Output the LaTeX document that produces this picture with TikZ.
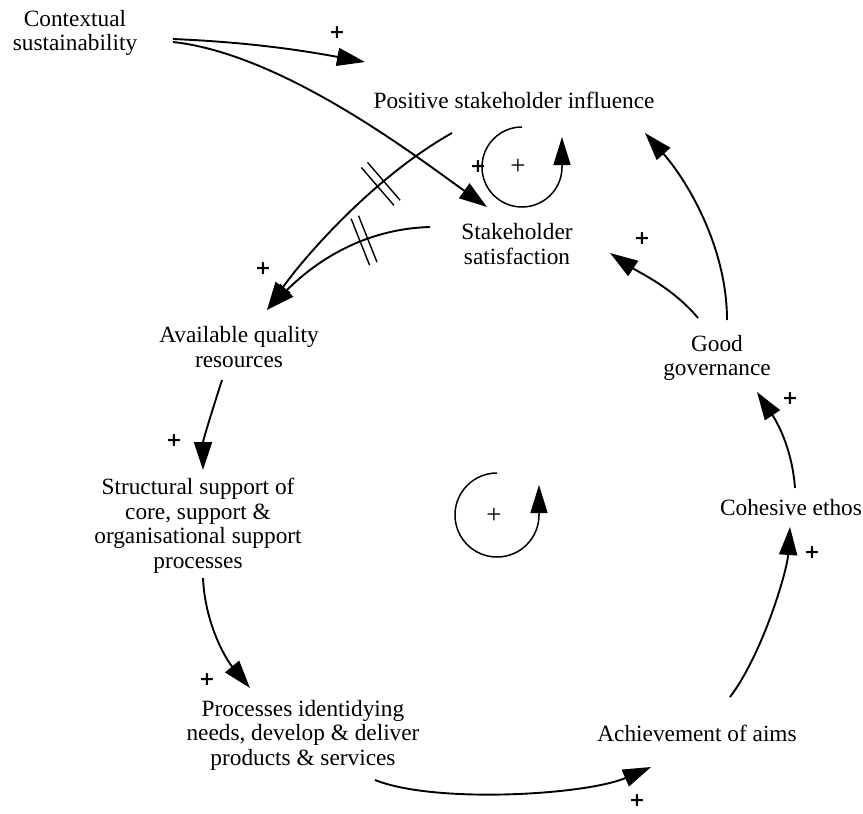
\documentclass[tikz,border=0pt]{standalone}
\usepackage{fontspec}
\setmainfont{Liberation Serif}
\newfontfamily\plusfont{DejaVu Sans}
\usetikzlibrary{arrows.meta,decorations.markings}

\tikzset{
  txt/.style={align=center, inner sep=0pt, font=\fontsize{23.3}{24.5}\selectfont},
  pol/.style={inner sep=0pt, font=\plusfont\fontsize{19}{19}\selectfont\bfseries},
  loopsign/.style={inner sep=0pt, font=\fontsize{27}{27}\selectfont},
  link/.style={line width=1.9pt, -{Triangle[length=28pt,width=18pt]}},
  loopline/.style={line width=1.5pt, -{Triangle[length=28pt,width=17pt]}},
  delaymark/.style={postaction={decorate}, decoration={markings,
      mark=at position #1 with {\draw[line width=1.4pt,-] (-4pt,-25pt) -- (-4pt,25pt) (4pt,-25pt) -- (4pt,25pt);}}}
}

\begin{document}
\begin{tikzpicture}[x=1pt, y=-1pt]
  \useasboundingbox[fill=white] (0,0) rectangle (863,814);

  % variables
  \node[txt] (ctx) at (75,33)  {Contextual\\sustainability};
  \node[txt] (psi) at (514,100) {Positive stakeholder influence};
  \node[txt] (ss)  at (517,244) {Stakeholder\\satisfaction};
  \node[txt] (aqr) at (239,347) {Available quality\\resources};
  \node[txt] (ssp) at (198,526) {Structural support of\\core, support \&\\organisational support\\processes};
  \node[txt] (pid) at (303,735) {Processes identidying\\needs, develop \& deliver\\products \& services};
  \node[txt] (ach) at (697,733) {Achievement of aims};
  \node[txt] (coh) at (791,508) {Cohesive ethos};
  \node[txt] (gg)  at (717,358) {Good\\governance};

  % causal links
  \draw[link] ([shift={(98,6)}]ctx.center) .. controls +(70,3) and +(-70,-13) .. ([shift={(-149,-38)}]psi.center);
  \draw[link] ([shift={(98,9)}]ctx.center) .. controls +(110,12) and +(-70,-50) .. ([shift={(-30,-37)}]ss.center);
  \draw[link, delaymark=0.34] ([shift={(-62,33)}]psi.center) .. controls +(-80,45) and +(35,-50) .. ([shift={(28,-37)}]aqr.center);
  \draw[link, delaymark=0.36] ([shift={(-87,-17)}]ss.center) .. controls +(-70,2) and +(45,-45) .. ([shift={(28,-37)}]aqr.center);
  \draw[link] ([shift={(-17,33)}]aqr.center) .. controls +(-8,25) and +(0,-30) .. ([shift={(5,-56)}]ssp.center);
  \draw[link] ([shift={(5,52)}]ssp.center) .. controls +(2,45) and +(-25,-30) .. ([shift={(-53,-47)}]pid.center);
  \draw[link] ([shift={(72,45)}]pid.center) .. controls +(60,24) and +(-65,28) .. ([shift={(-46,34)}]ach.center);
  \draw[link] ([shift={(33,-36)}]ach.center) .. controls +(32,-42) and +(-3,45) .. ([shift={(-1,19)}]coh.center);
  \draw[link] ([shift={(4,-20)}]coh.center) .. controls +(-3,-40) and +(20,30) .. ([shift={(40,34)}]gg.center);
  \draw[link] ([shift={(-19,-40)}]gg.center) .. controls +(-25,-30) and +(30,20) .. ([shift={(93,9)}]ss.center);
  \draw[link] ([shift={(10,-38)}]gg.center) .. controls +(0,-75) and +(40,45) .. ([shift={(131,33)}]psi.center);

  % link polarities
  \node[pol] (p1) at (337,33)  {+};
  \node[pol] (p2) at (478,167) {+};
  \node[pol] (p3) at (263,269) {+};
  \node[pol] (p4) at (174,441) {+};
  \node[pol] (p5) at (207,680) {+};
  \node[pol] (p6) at (637,801) {+};
  \node[pol] (p7) at (812,553) {+};
  \node[pol] (p8) at (790,399) {+};
  \node[pol] (p9) at (642,239) {+};

  % reinforcing loop markers
  \coordinate (lsmall) at (522,167);
  \draw[loopline] ([shift={(0,-40)}]lsmall) arc[start angle=270, end angle=0, radius=40] -- ++(0,-30);
  \node[loopsign] (lsmallsign) at (518,167) {+};

  \coordinate (lbig) at (497,515);
  \draw[loopline] ([shift={(0,-42)}]lbig) arc[start angle=270, end angle=0, radius=42] -- ++(0,-30);
  \node[loopsign] (lbigsign) at (494,516) {+};
\end{tikzpicture}
\end{document}
